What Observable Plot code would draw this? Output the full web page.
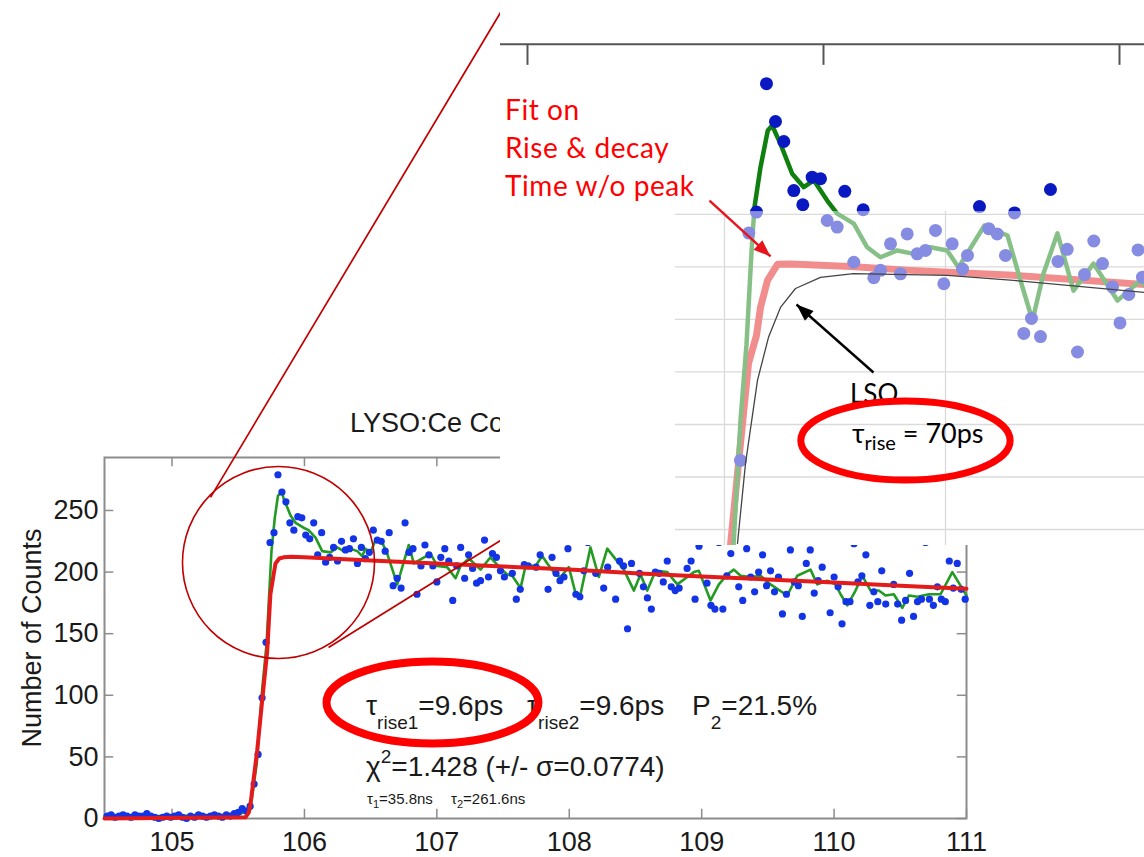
<!DOCTYPE html>
<html><head><meta charset="utf-8">
<script src="https://cdn.jsdelivr.net/npm/d3@7"></script>
<script src="https://cdn.jsdelivr.net/npm/@observablehq/plot@0.6"></script>
<style>
html,body{margin:0;padding:0;background:#fff;}
#root{position:relative;width:1144px;height:857px;overflow:hidden;background:#fff;}
.layer{position:absolute;left:0;top:0;}
#inset{position:absolute;left:500px;top:0;width:644px;height:545px;background:#fff;overflow:hidden;}
</style></head><body><div id="root"></div>
<script>
// ---------------- data: main LYSO:Ce histogram ----------------
const xTicks = [105, 106, 107, 108, 109, 110, 111];
const yTicks = [0, 50, 100, 150, 200, 250];
const binStart = 104.51, binWidth = 0.03;
const counts = [
  2,3,1,2,3,2,1,3,2,2, 4,2,1,0,1,2,1,2,3,1, 0,2,1,3,2,1,2,3,2,1, 3,2,4,5,8,
  6,10,28,52,98,143,224,232,279,265,
  257,240,234,245,244,230,227,240,214,232,
  208,212,220,209,225,218,219,227,207,220,
  211,216,234,226,225,217,232,189,195,187,
  240,216,219,182,205,222,214,205,192,212,
  219,209,177,205,220,195,214,203,191,193,
  226,196,215,212,201,196,230,199,178,186,
  206,205,228,204,214,232,186,212,199,193,
  196,219,226,182,180,201,224,228,199,233,
  187,204,225,178,209,205,154,207,230,199,
  188,179,170,200,199,192,209,188,185,187,
  226,203,209,178,221,236,191,173,170,224,
  170,197,215,229,188,177,219,196,184,200,
  214,189,201,184,196,166,182,218,192,189,
  164,207,218,183,193,204,225,167,196,188,
  158,176,176,223,192,197,214,173,184,176,
  201,174,226,190,174,161,177,199,164,176,
  178,224,178,173,188,178,176,209,187,207,
  186,178
];
// green curve (t [ns], counts)
const greenMain = [
  [104.49,2],[105.0,2],[105.5,3],[105.56,6],[105.6,14],[105.64,45],[105.681,105],[105.714,142],[105.751,217],[105.776,244],
  [105.80,262],[105.83,265],[105.842,260],[105.895,246],[105.933,240],[105.993,236],[106.031,234],[106.084,228],[106.134,217],[106.197,216],
  [106.248,220],[106.295,217],[106.348,219],[106.399,217],[106.436,213],[106.461,219],[106.499,216],[106.537,226],[106.587,224],[106.625,215],
  [106.701,190],[106.788,222],[106.826,207],[106.952,215],[107.003,205],[107.078,204],[107.141,195],[107.179,205],[107.242,211],[107.33,202],
  [107.405,212],[107.481,203],[107.532,198],[107.569,197],[107.632,187],[107.670,205],[107.745,205],[107.796,213],[107.834,207],[107.896,198],
  [107.934,196],[107.997,204],[108.047,183],[108.085,182],[108.16,220],[108.223,196],[108.287,219],[108.412,202],[108.488,185],[108.538,198],
  [108.589,185],[108.652,201],[108.74,200],[108.816,190],[108.891,196],[108.941,200],[108.979,201],[109.067,177],[109.13,190],[109.193,198],
  [109.243,202],[109.294,197],[109.369,196],[109.445,197],[109.52,190],[109.646,181],[109.722,197],[109.822,202],[109.873,190],[109.948,193],
  [110.011,190],[110.049,182],[110.1,173],[110.162,185],[110.213,197],[110.276,185],[110.338,185],[110.389,181],[110.451,182],[110.515,171],
  [110.565,181],[110.628,180],[110.716,182],[110.804,182],[110.893,200],[110.955,189],[111.0,181]
];
// red fit curve
const fitMain = [
  [104.49,0],[105.555,1],[105.58,5],[105.593,12],[105.643,55],[105.681,96],[105.719,136],[105.743,182],[105.781,207],[105.81,211],
  [105.842,212],[105.9,212.5],[106.0,212],[106.5,209.5],[107.0,207],[107.5,204.5],[108.0,202],[108.5,199],[109.0,196.5],[109.5,194],
  [110.0,191.5],[110.5,189],[111.0,186.5]
];

// ---------------- data: zoomed inset ----------------
const insetTicks = [105, 106, 107];
const insetGridY = [230, 210, 190, 170, 150, 130, 110];
const insetGridX = [105.6655, 106.4122];
const insetPoints = [
  [105.7736,230.9],[105.8074,279.8],[105.8378,265.4],[105.8659,257.8],[105.8997,239.1],[105.9301,233.7],[105.9618,244.2],
  [105.9899,243.6],[106.0720,238.8],[106.1341,231.8],[106.5270,233.0],[106.6453,230.6],[106.7669,239.5],
  [105.7196,136.3],[105.7476,222.9],[106.0125,227.7],[106.0463,225.2],[106.1024,211.8],[106.1699,205.9],[106.1926,208.7],
  [106.2264,218.8],[106.2601,207.4],[106.2828,222.6],[106.3166,215.0],[106.3446,216.3],[106.3784,223.9],[106.4064,203.6],
  [106.4348,218.8],[106.4696,209.2],[106.4865,214.4],[106.5584,224.6],[106.5868,222.6],[106.6149,214.4],[106.6767,184.7],
  [106.7027,190.4],[106.7331,183.5],[106.7922,212.1],[106.8233,216.7],[106.8581,177.6],[106.8818,207.1],[106.9132,219.9],
  [106.9426,211.3],[106.9764,202.4],[107.0017,188.7],[107.0314,199.5],[107.0625,216.5],[107.0777,206.1]
];
const insetFit = [
  [105.6858,103.9],[105.7128,135.1],[105.7466,173.2],[105.7736,183.9],[105.7872,194.6],[105.8108,204.9],[105.8446,211.0],
  [105.8885,211.1],[106.0912,210.2],[106.2939,208.7],[106.6419,206.8],[107.0845,203.3]
];
const insetLSO = [
  [105.7095,104.7],[105.7365,135.1],[105.777,166.8],[105.8142,183.2],[105.8547,194.6],[105.9054,201.8],[105.9899,206.0],
  [106.1014,207.5],[106.4189,206.8],[106.6419,204.9],[107.0845,200.3]
];
const insetGreen = [
  [105.696,103.9],[105.7196,151.5],[105.7399,180.5],[105.7534,208.7],[105.7591,220.1],[105.7669,232.8],[105.7872,248.0],
  [105.8118,262.0],[105.8267,263.9],[105.8547,256.9],[105.8943,245.5],[105.9334,240.4],[105.9672,243.0],[106.0125,235.3],
  [106.0463,230.3],[106.1024,226.5],[106.1476,217.5],[106.1926,213.7],[106.2490,216.3],[106.3051,215.0],[106.3615,217.5],
  [106.4179,216.3],[106.4561,209.8],[106.5439,225.8],[106.6216,222.0],[106.6655,204.9],[106.7061,189.6],[106.7432,207.5],
  [106.7905,222.8],[106.8446,201.0],[106.9122,211.3],[106.9932,197.2],[107.0709,204.9],[107.0845,203.0]
];

// ---------------- annotations (data units) ----------------
const mainCircle = [{t:105.804, v:207.8}];
const zoomLinks = [{t1:105.2906, v1:260.6, t2:107.481, v2:654.2}, {t1:106.182, v1:138.8, t2:107.481, v2:225.6}];
const mainEllipse = [{t:106.967, v:94.2}];
const insetEllipse = [{t:106.277, v:143.9}];
const insetArrows = [
  {t1:105.6149, v1:235.3, t2:105.821, v2:214.0, c:"#e8141c"},
  {t1:106.1689, v1:169.8, t2:105.9088, v2:195.7, c:"#000000"}
];
const fadeBox = [{t1:105.5, t2:107.0845, v1:103.9, v2:231.1}];

// ---------------- build ----------------
const W = 1144, H = 857;
const mainPts = counts.map((c, i) => ({t: binStart + i * binWidth, v: c}));
const P = a => a.map(([t, v]) => ({t, v}));
const SANS = "'Liberation Sans', Arial, Helvetica, sans-serif";
const CAL = "Lato, 'Open Sans', sans-serif";
const frameCol = "#8c8c8c";

function ellipseSymbol(k) {
  const c = 0.5523;
  return {draw(ctx, size) {
    const ry = Math.sqrt(size / Math.PI), rx = ry * k;
    ctx.moveTo(rx, 0);
    ctx.bezierCurveTo(rx, c*ry, c*rx, ry, 0, ry);
    ctx.bezierCurveTo(-c*rx, ry, -rx, c*ry, -rx, 0);
    ctx.bezierCurveTo(-rx, -c*ry, -c*rx, -ry, 0, -ry);
    ctx.bezierCurveTo(c*rx, -ry, rx, -c*ry, rx, 0);
    ctx.closePath();
  }};
}
// filled arrow head, apex at the anchor point, pointing "up" before rotation
const headSymbol = {draw(ctx) { ctx.moveTo(0, 0); ctx.lineTo(-6.5, 17); ctx.lineTo(6.5, 17); ctx.closePath(); }};

const root = document.getElementById("root");
const mainBase = {width: W, height: H, marginLeft: 104, marginRight: 178, marginTop: 457, marginBottom: 39};

const main = Plot.plot({
  ...mainBase,
  style: {fontFamily: SANS, fontSize: "27px", color: "#1a1a1a", background: "transparent", overflow: "visible"},
  x: {domain: [104.49, 111], ticks: xTicks, tickSize: 0, tickPadding: 13, tickFormat: d => String(d), label: null},
  y: {domain: [0, 293], ticks: yTicks, tickSize: 0, tickPadding: 6, label: null},
  marks: [
    Plot.frame({stroke: frameCol, strokeWidth: 2}),
    Plot.ruleX(xTicks, {x: d => d, y1: 0, y2: 7.5, stroke: frameCol, strokeWidth: 1.5}),
    Plot.ruleX(xTicks, {x: d => d, y1: 285.5, y2: 293, stroke: frameCol, strokeWidth: 1.5}),
    Plot.ruleY(yTicks, {y: d => d, x1: 104.49, x2: 104.56, stroke: frameCol, strokeWidth: 1.5}),
    Plot.ruleY(yTicks, {y: d => d, x1: 110.93, x2: 111, stroke: frameCol, strokeWidth: 1.5}),
    Plot.line(P(greenMain), {x: "t", y: "v", stroke: "#239b23", strokeWidth: 2.6}),
    Plot.dot(mainPts, {x: "t", y: "v", r: 3.6, fill: "#1233e6"}),
    Plot.line(P(fitMain), {x: "t", y: "v", stroke: "#e31b1b", strokeWidth: 4}),
    Plot.dot(mainCircle, {x: "t", y: "v", r: 96, stroke: "#c00000", strokeWidth: 1.6, fill: "none"}),
    Plot.link(zoomLinks, {x1: "t1", y1: "v1", x2: "t2", y2: "v2", stroke: "#c00000", strokeWidth: 1.7}),
    Plot.text(["Number of Counts"], {frameAnchor: "left", textAnchor: "middle", dx: -72, rotate: -90, fontSize: 27, fill: "#1a1a1a"})
  ]
});
main.classList.add("layer");
root.appendChild(main);

const sx = main.scale("x"), sy = main.scale("y");

function rich(svg, x, y, size, fill, family, parts, extra) {
  const t = svg.append("text").attr("x", x).attr("y", y).attr("font-size", size)
    .attr("fill", fill).attr("font-family", family).style("white-space", "pre");
  if (extra) for (const k in extra) t.style(k, extra[k]);
  let prev = 0;
  for (const [s, fs, shift] of parts) {
    const sh = shift || 0;
    t.append("tspan").attr("font-size", fs || size).attr("dy", sh - prev).text(s);
    prev = sh;
  }
  return t;
}

// main text layer
const mt = d3.create("svg").attr("width", W).attr("height", H).attr("class", "layer");
const mX = v => sx.apply(v), mY = v => sy.apply(v);
rich(mt, mX(106.348), mY(313.3), 27, "#1a1a1a", SANS, [["LYSO:Ce Co"]]);
rich(mt, mX(106.469), mY(83.6), 28, "#1a1a1a", SANS, [["τ"], ["rise1", 19, 14], ["=9.6ps"]]);
rich(mt, mX(107.685), mY(83.6), 28, "#1a1a1a", SANS, [["τ"], ["rise2", 19, 14], ["=9.6ps"]]);
rich(mt, mX(108.931), mY(83.6), 28, "#1a1a1a", SANS, [["P"], ["2", 19, 14], ["=21.5%"]]);
rich(mt, mX(106.469), mY(34.1), 28, "#1a1a1a", SANS, [["χ"], ["2", 19, -13], ["=1.428 (+/- σ=0.0774)"]]);
rich(mt, mX(106.476), mY(11.4), 15, "#1a1a1a", SANS, [["τ"], ["1", 11, 4], ["=35.8ns"]]);
rich(mt, mX(107.111), mY(11.4), 15, "#1a1a1a", SANS, [["τ"], ["2", 11, 4], ["=261.6ns"]]);
root.appendChild(mt.node());

// main ellipse layer
const mainEl = Plot.plot({
  ...mainBase,
  style: {background: "transparent", overflow: "visible"},
  x: {domain: [104.49, 111], axis: null},
  y: {domain: [0, 293], axis: null},
  marks: [
    Plot.dot(mainEllipse, {x: "t", y: "v", r: 41, symbol: ellipseSymbol(2.585), stroke: "#ff0000", strokeWidth: 8, fill: "none"})
  ]
});
mainEl.classList.add("layer");
root.appendChild(mainEl);

// ---------------- inset ----------------
const inset = document.createElement("div");
inset.id = "inset";
root.appendChild(inset);
const iX = {domain: [104.9088, 107.0845], range: [0, 644]};
const iY = {domain: [103.9, 311.5], range: [545, 0]};
const iBase = {width: 644, height: 545, margin: 0,
  x: {domain: iX.domain, axis: null}, y: {domain: iY.domain, axis: null}};

// arrow-head rotation from the inset's own scales
const scX = Plot.scale({x: iX}), scY = Plot.scale({y: iY});
const arrowHeads = insetArrows.map(a => {
  const dx = scX.apply(a.t2) - scX.apply(a.t1), dy = scY.apply(a.v2) - scY.apply(a.v1);
  return {t: a.t2, v: a.v2, c: a.c, rot: Math.atan2(dx, -dy) * 180 / Math.PI};
});

const ip = Plot.plot({
  ...iBase,
  style: {background: "#fff", overflow: "hidden"},
  marks: [
    Plot.ruleY(insetGridY, {y: d => d, x1: 105.5, x2: 107.0845, stroke: "#b4b4b4", strokeWidth: 1.3}),
    Plot.ruleX(insetGridX, {x: d => d, y1: 103.9, y2: 231.1, stroke: "#b4b4b4", strokeWidth: 1.3}),
    Plot.line(P(insetFit), {x: "t", y: "v", stroke: "#e31b1b", strokeWidth: 7, clip: true}),
    Plot.line(P(insetGreen), {x: "t", y: "v", stroke: "#0f800f", strokeWidth: 4.5, clip: true}),
    Plot.dot(P(insetPoints), {x: "t", y: "v", r: 6.5, fill: "#0a18c2"}),
    Plot.rect(fadeBox, {x1: "t1", x2: "t2", y1: "v1", y2: "v2", fill: "#fff", fillOpacity: 0.5}),
    Plot.line(P(insetLSO), {x: "t", y: "v", stroke: "#444", strokeWidth: 1.3, clip: true}),
    Plot.ruleY([294.8], {y: d => d, stroke: "#555", strokeWidth: 2}),
    Plot.ruleX(insetTicks, {x: d => d, y1: 286.8, y2: 294.8, stroke: "#555", strokeWidth: 2}),
    Plot.link(insetArrows, {x1: "t1", y1: "v1", x2: "t2", y2: "v2", stroke: "c", strokeWidth: 2.4}),
    Plot.dot(arrowHeads, {x: "t", y: "v", symbol: headSymbol, rotate: "rot", fill: "c", stroke: "none", r: 8})
  ]
});
ip.classList.add("layer");
inset.appendChild(ip);

const ix = ip.scale("x"), iy = ip.scale("y");
const it = d3.create("svg").attr("width", 644).attr("height", 545).attr("class", "layer");
rich(it, ix.apply(104.9257), iy.apply(265.8), 28, "#ff0000", CAL, [["Fit on"]], {"letter-spacing": "0.6px"});
rich(it, ix.apply(104.9257), iy.apply(251.3), 28, "#ff0000", CAL, [["Rise & decay"]], {"letter-spacing": "0.6px"});
rich(it, ix.apply(104.9257), iy.apply(236.9), 28, "#ff0000", CAL, [["Time w/o peak"]], {"letter-spacing": "0.6px"});
rich(it, ix.apply(106.0912), iy.apply(158.0), 26, "#000", CAL, [["LSO"]]);
rich(it, ix.apply(106.098), iy.apply(142.8), 27, "#000", CAL, [["τ"], ["rise", 20, 7], [" = 70ps"]]);
inset.appendChild(it.node());

const ie = Plot.plot({
  ...iBase,
  style: {background: "transparent", overflow: "visible"},
  marks: [
    Plot.dot(insetEllipse, {x: "t", y: "v", r: 39.5, symbol: ellipseSymbol(2.65), stroke: "#ff0000", strokeWidth: 7, fill: "none"})
  ]
});
ie.classList.add("layer");
inset.appendChild(ie);
</script></body></html>
